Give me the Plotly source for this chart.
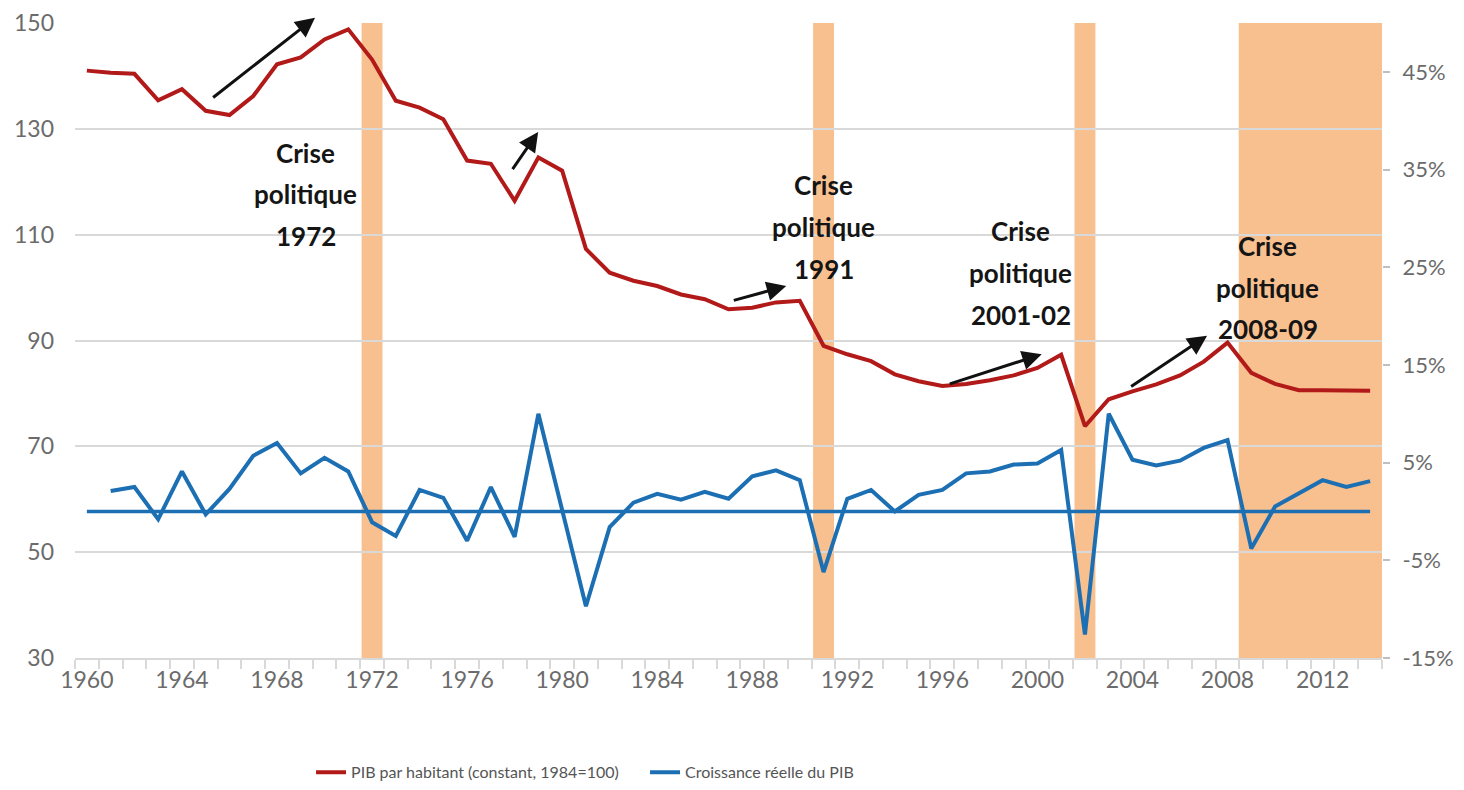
import plotly.graph_objects as go

# ---------------- data ----------------
years = [1960, 1961, 1962, 1963, 1964, 1965, 1966, 1967, 1968, 1969,
         1970, 1971, 1972, 1973, 1974, 1975, 1976, 1977, 1978, 1979,
         1980, 1981, 1982, 1983, 1984, 1985, 1986, 1987, 1988, 1989,
         1990, 1991, 1992, 1993, 1994, 1995, 1996, 1997, 1998, 1999,
         2000, 2001, 2002, 2003, 2004, 2005, 2006, 2007, 2008, 2009,
         2010, 2011, 2012, 2013, 2014]

pib_par_habitant = [141.0, 140.6, 140.4, 135.4, 137.5, 133.4, 132.6, 136.2, 142.2, 143.5,
                    146.9, 148.8, 143.1, 135.3, 134.0, 131.8, 124.0, 123.4, 116.4, 124.6,
                    122.1, 107.3, 102.8, 101.3, 100.3, 98.7, 97.8, 95.9, 96.2, 97.2,
                    97.5, 89.0, 87.4, 86.1, 83.6, 82.3, 81.4, 81.8, 82.5, 83.4,
                    84.8, 87.3, 73.8, 78.9, 80.4, 81.7, 83.4, 86.0, 89.6, 83.9,
                    81.8, 80.6, 80.6, 80.5, 80.5]

years_croissance = years[1:]
croissance_pib = [2.1, 2.5, -0.8, 4.1, -0.3, 2.3, 5.7, 7.0, 3.9,
                  5.5, 4.1, -1.1, -2.5, 2.2, 1.4, -3.0, 2.5, -2.6, 10.0,
                  0.2, -9.7, -1.6, 0.9, 1.8, 1.2, 2.0, 1.3, 3.6, 4.2,
                  3.2, -6.2, 1.3, 2.2, 0.0, 1.7, 2.2, 3.9, 4.1, 4.8,
                  4.9, 6.3, -12.6, 10.0, 5.3, 4.7, 5.2, 6.5, 7.3, -3.8,
                  0.5, 1.8, 3.2, 2.5, 3.1]

# zero-growth reference line (first and last year)
zero_line_years = [1960, 2014]
zero_line_values = [0, 0]

crisis_single_years = [1972, 1991, 2002]
crisis_period = [2009, 2014]

label_years = [1960, 1964, 1968, 1972, 1976, 1980, 1984, 1988, 1992, 1996, 2000, 2004, 2008, 2012]
left_ticks = [30, 50, 70, 90, 110, 130, 150]
right_ticks = [-15, -5, 5, 15, 25, 35, 45]
right_tick_text = ["-15%", "-5%", "5%", "15%", "25%", "35%", "45%"]

crisis_labels = [["Crise", "politique", "1972"],
                 ["Crise", "politique", "1991"],
                 ["Crise", "politique", "2001-02"],
                 ["Crise", "politique", "2008-09"]]

# ---------------- styles ----------------
RED = "#B21A1A"
BLUE = "#1C6FB3"
BAND = "#F9C08F"
GRID = "#D9D9D9"
TICKTXT = "#6B6B6B"
FONT = "Lato, 'Open Sans', sans-serif"

fig = go.Figure()

fig.add_trace(go.Scatter(
    x=zero_line_years, y=zero_line_values, mode="lines", showlegend=False, hoverinfo="skip",
    line=dict(color=BLUE, width=3.5), yaxis="y2"))
fig.add_trace(go.Scatter(
    x=years, y=pib_par_habitant, name="PIB par habitant (constant, 1984=100)",
    mode="lines", line=dict(color=RED, width=4), yaxis="y"))
fig.add_trace(go.Scatter(
    x=years_croissance, y=croissance_pib, name="Croissance réelle du PIB",
    mode="lines", line=dict(color=BLUE, width=4), yaxis="y2"))

shapes = []
half = 0.44
for yr in crisis_single_years:
    shapes.append(dict(type="rect", xref="x", yref="paper", x0=yr - half, x1=yr + half,
                       y0=0, y1=1, fillcolor=BAND, line=dict(width=0), layer="between"))
shapes.append(dict(type="rect", xref="x", yref="paper", x0=crisis_period[0] - 0.53,
                   x1=crisis_period[1] + 0.5, y0=0, y1=1, fillcolor=BAND,
                   line=dict(width=0), layer="between"))

annotations = []
label_pos = [(1969.2, 125.5), (1991.0, 119.3), (1999.3, 110.7), (2009.7, 107.9)]
line_step = 7.9
for lines, (lx, ly) in zip(crisis_labels, label_pos):
    for i, t in enumerate(lines):
        annotations.append(dict(x=lx, y=ly - i * line_step, xref="x", yref="y", text="<b>%s</b>" % t,
                                showarrow=False, xanchor="center", yanchor="middle",
                                font=dict(family=FONT, size=26, color="#151515")))

arrows = [((1965.25, 135.7), (1969.6, 151.0)),
          ((1977.87, 122.1), (1978.99, 129.4)),
          ((1987.16, 97.5), (1989.43, 100.3)),
          ((1996.25, 81.7), (2000.18, 87.4)),
          ((2003.88, 81.1), (2007.14, 90.9))]
for (tx, ty), (hx, hy) in arrows:
    annotations.append(dict(x=hx, y=hy, ax=tx, ay=ty, xref="x", yref="y", axref="x", ayref="y",
                            text="", showarrow=True, arrowhead=2, arrowsize=1.3, arrowwidth=3,
                            arrowcolor="#111111", standoff=0, startstandoff=0))

fig.update_layout(
    width=1456, height=782,
    paper_bgcolor="white", plot_bgcolor="white",
    margin=dict(l=67, r=82, t=15, b=132, autoexpand=False),
    font=dict(family=FONT, color=TICKTXT),
    showlegend=True,
    legend=dict(orientation="h", x=0.1806, y=-0.18, xanchor="left", yanchor="middle",
                font=dict(family=FONT, size=16, color="#555555"),
                itemwidth=30, tracegroupgap=0, entrywidth=289),
    xaxis=dict(range=[1959.5, 2014.5], tickmode="array", tickvals=label_years,
               ticktext=[str(y) for y in label_years], ticks="", showgrid=False, zeroline=False,
               showline=True, linecolor=GRID, linewidth=2,
               tickfont=dict(family=FONT, size=23, color=TICKTXT), ticklabelstandoff=0,
               minor=dict(ticks="outside", ticklen=9, tickcolor=GRID, tickwidth=1.5,
                          tick0=1959.5, dtick=1, showgrid=False)),
    yaxis=dict(range=[30, 150], tickmode="array", tickvals=left_ticks, showgrid=True,
               gridcolor=GRID, gridwidth=2, zeroline=False, ticks="", showline=False,
               tickfont=dict(family=FONT, size=23, color=TICKTXT), ticklabelstandoff=20),
    yaxis2=dict(range=[-15, 50], overlaying="y", side="right", tickmode="array",
                tickvals=right_ticks, ticktext=right_tick_text, showgrid=False, zeroline=False,
                ticks="outside", ticklen=7, tickcolor="#BFBFBF", tickwidth=1.5, showline=False,
                tickfont=dict(family=FONT, size=22, color=TICKTXT), ticklabelstandoff=8),
    shapes=shapes,
    annotations=annotations,
)

fig.write_html("out.html")
